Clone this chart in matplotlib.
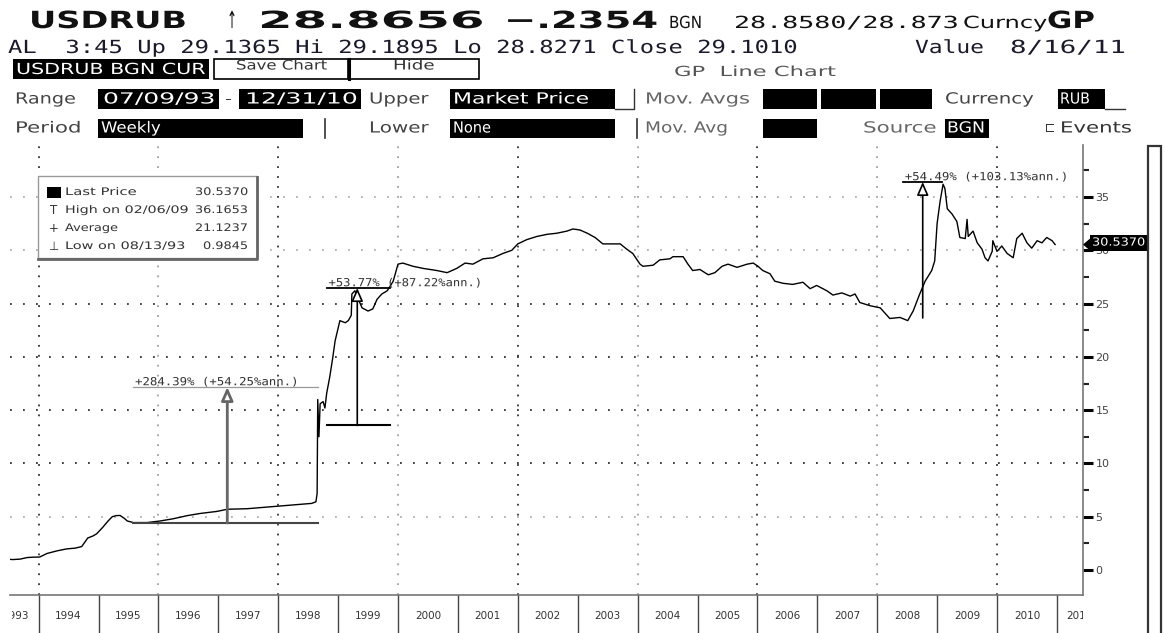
import matplotlib
matplotlib.use("Agg")
import matplotlib.pyplot as plt
import matplotlib.patheffects as pe
from matplotlib.transforms import Affine2D, blended_transform_factory
from matplotlib.patches import Rectangle, Polygon

# ------------------------------------------------------------------ data
years = [1993.52, 1993.57, 1993.69, 1993.81, 1993.90, 1994.02, 1994.14, 1994.31,
         1994.47, 1994.61, 1994.72, 1994.77, 1994.82, 1994.91, 1994.97, 1995.07,
         1995.16, 1995.23, 1995.29, 1995.36, 1995.43, 1995.48, 1995.58, 1995.81,
         1996.03, 1996.24, 1996.48, 1996.69, 1996.98, 1997.15, 1997.48, 1997.81,
         1998.03, 1998.25, 1998.45, 1998.56, 1998.63, 1998.65, 1998.66, 1998.68,
         1998.70, 1998.75, 1998.78, 1998.81, 1998.86, 1998.91, 1998.95, 1999.00,
         1999.03, 1999.12, 1999.17, 1999.22, 1999.23, 1999.28, 1999.33, 1999.40,
         1999.50, 1999.58, 1999.65, 1999.73, 1999.82, 1999.92, 2000.00, 2000.08,
         2000.25, 2000.42, 2000.65, 2000.82, 2000.98, 2001.12, 2001.25, 2001.42,
         2001.59, 2001.75, 2001.90, 2002.00, 2002.15, 2002.32, 2002.49, 2002.65,
         2002.82, 2002.92, 2003.04, 2003.16, 2003.29, 2003.42, 2003.54, 2003.71,
         2003.82, 2003.92, 2004.04, 2004.09, 2004.26, 2004.37, 2004.54, 2004.59,
         2004.76, 2004.84, 2004.92, 2005.04, 2005.18, 2005.29, 2005.41, 2005.51,
         2005.66, 2005.83, 2005.93, 2006.01, 2006.09, 2006.21, 2006.29, 2006.43,
         2006.59, 2006.76, 2006.88, 2006.99, 2007.16, 2007.26, 2007.41, 2007.55,
         2007.63, 2007.71, 2007.88, 2008.05, 2008.21, 2008.38, 2008.51, 2008.60,
         2008.71, 2008.80, 2008.91, 2008.96, 2009.00, 2009.05, 2009.10, 2009.13,
         2009.17, 2009.25, 2009.33, 2009.38, 2009.47, 2009.50, 2009.52, 2009.60,
         2009.67, 2009.75, 2009.80, 2009.85, 2009.92, 2009.93, 2010.00, 2010.08,
         2010.17, 2010.27, 2010.33, 2010.42, 2010.50, 2010.58, 2010.67, 2010.75,
         2010.83, 2010.92, 2010.97]
usdrub = [1.00, 0.98, 1.02, 1.17, 1.20, 1.22, 1.55, 1.80,
          1.98, 2.05, 2.20, 2.60, 3.00, 3.20, 3.40, 4.00,
          4.60, 5.00, 5.10, 5.12, 4.85, 4.60, 4.45, 4.45,
          4.60, 4.80, 5.10, 5.30, 5.50, 5.70, 5.75, 5.90,
          6.00, 6.10, 6.20, 6.25, 6.40, 7.20, 16.0, 12.5,
          15.6, 15.8, 15.2, 16.6, 18.1, 19.9, 21.5, 22.7,
          23.4, 23.2, 23.4, 23.9, 25.9, 26.2, 25.5, 24.6,
          24.3, 24.5, 25.4, 25.9, 26.2, 27.1, 28.7, 28.8,
          28.5, 28.3, 28.1, 27.9, 28.3, 28.8, 28.7, 29.2,
          29.3, 29.7, 30.0, 30.6, 31.0, 31.3, 31.5, 31.6,
          31.8, 32.0, 31.9, 31.6, 31.2, 30.6, 30.6, 30.6,
          30.1, 29.7, 28.7, 28.5, 28.6, 29.1, 29.2, 29.4,
          29.4, 28.7, 28.1, 28.2, 27.7, 27.9, 28.5, 28.7,
          28.4, 28.7, 28.8, 28.5, 28.1, 27.8, 27.1, 26.9,
          26.8, 27.0, 26.4, 26.7, 26.2, 25.8, 26.0, 25.7,
          25.9, 25.1, 24.8, 24.6, 23.6, 23.7, 23.4, 24.3,
          25.9, 27.1, 28.1, 29.0, 32.5, 34.6, 36.2, 35.8,
          33.9, 33.4, 32.7, 31.2, 31.1, 32.9, 31.3, 31.8,
          30.7, 30.1, 29.3, 29.0, 29.9, 30.9, 29.9, 30.4,
          29.7, 29.3, 31.1, 31.6, 30.7, 30.2, 30.9, 30.7,
          31.2, 30.9, 30.54]

year_labels = list(range(1993, 2012))
ytick_values = [0, 5, 10, 15, 20, 25, 30, 35]
last_price = 30.5370

legend_symbols = ["", "T", "+", "\u22a5"]
legend_names = ["Last Price", "High on 02/06/09", "Average", "Low on 08/13/93"]
legend_values = ["30.5370", "36.1653", "21.1237", "0.9845"]

# percentage-move annotations: start, end, arrow x, low, high, label
move_start = [1995.58, 1998.81, 2008.43]
move_end = [1998.66, 1999.87, 2009.08]
move_arrow = [1997.15, 1999.32, 2008.76]
move_low = [4.41, 13.56, 23.65]
move_high = [17.17, 26.46, 36.41]
move_labels = ["+284.39% (+54.25%ann.)", "+53.77% (+87.22%ann.)", "+54.49% (+103.13%ann.)"]

# ------------------------------------------------------------------ helpers
W, H = 1165, 633
fig = plt.figure(figsize=(W / 100, H / 100), dpi=100, facecolor="white")
renderer = fig.canvas.get_renderer()


class HStretch(pe.AbstractPathEffect):
    """Draw text glyphs stretched horizontally around the text origin."""

    def __init__(self, sx):
        super().__init__()
        self.sx = sx

    def draw_path(self, renderer, gc, tpath, affine, rgbFace=None):
        renderer.draw_path(gc, tpath, Affine2D().scale(self.sx, 1.0) + affine, rgbFace)


def fit(axx, x, y, s, width_px=None, size=10, weight="normal", family="DejaVu Sans",
        color="#222222", va="center", zorder=6, **kw):
    t = axx.text(x, y, s, fontsize=size, fontweight=weight, family=family, color=color,
                 ha="left", va=va, zorder=zorder, **kw)
    if width_px is not None:
        w = t.get_window_extent(renderer).width
        if w > 0:
            t.set_path_effects([HStretch(width_px / w)])
    return t


def px_rect(x0, y0, x1, y1):
    return [x0 / W, 1 - y1 / H, (x1 - x0) / W, (y1 - y0) / H]


X0_PX, PX_PER_YEAR = 398.0, 59.9
V0_PX, PX_PER_UNIT = 570.0, 10.657


def px_to_year(px):
    return 2000.0 + (px - X0_PX) / PX_PER_YEAR


def px_to_val(py):
    return (V0_PX - py) / PX_PER_UNIT


# ------------------------------------------------------------------ main chart
ax = fig.add_axes(px_rect(10, 145, 1083, 595))
ax.set_xlim(px_to_year(10), px_to_year(1083))
ax.set_ylim(px_to_val(595), px_to_val(145))
for side in ("top", "left"):
    ax.spines[side].set_visible(False)
ax.spines["bottom"].set_color("#777777")
ax.spines["right"].set_color("#777777")
ax.spines["bottom"].set_linewidth(1.2)
ax.spines["right"].set_linewidth(1.2)

ax.yaxis.tick_right()
ax.set_yticks(ytick_values)
ax.set_yticks([v + 2.5 for v in ytick_values], minor=True)
ax.tick_params(axis="y", which="major", length=7, width=2.2, color="black",
               labelsize=8, labelcolor="#444444", pad=2)
ax.tick_params(axis="y", which="minor", length=4, width=1.5, color="#222222")
ax.set_xticks([])

# gridlines
for v in ytick_values[1:]:
    c = "#333333" if 10 <= v <= 25 else "#b0b0b0"
    ax.axhline(v, color=c, lw=1.3, ls=(0, (1.0, 6.2)), zorder=1)
for i, yr in enumerate(range(1994, 2011, 2)):
    c = "#333333" if i % 2 == 0 else "#a0a0a0"
    ax.axvline(yr, color=c, lw=1.3, ls=(0, (1.0, 4.5)), zorder=1)

ax.plot(years, usdrub, color="black", lw=1.0, zorder=3)

# move annotations
base_cols = ["#444444", "black"]
top_cols = ["#999999", "black", "black"]
shaft_cols = ["#666666", "black", "black"]
for i in range(3):
    if i < 2:
        ax.plot([move_start[i], move_end[i]], [move_low[i], move_low[i]],
                color=base_cols[i], lw=1.5, zorder=4)
    ax.plot([move_start[i], move_end[i]], [move_high[i], move_high[i]],
            color=top_cols[i], lw=0.9 if i == 0 else 1.3, zorder=4)
    ax.annotate("", xy=(move_arrow[i], move_high[i]), xytext=(move_arrow[i], move_low[i]),
                arrowprops=dict(arrowstyle="-|>,head_length=0.8,head_width=0.35",
                                fc="white", ec=shaft_cols[i],
                                lw=2.0 if i == 0 else 1.2, shrinkA=0, shrinkB=0),
                zorder=5)
    fit(ax, move_start[i] + 0.03, move_high[i] + 0.45, move_labels[i],
        width_px=165 if i != 1 else 155, size=8, family="DejaVu Sans Mono",
        color="#333333", va="center", zorder=7)

# last price tag on right axis
trans = blended_transform_factory(ax.transAxes, ax.transData)
pxa = 1.0 / 1073.0
pv = 1.0 / PX_PER_UNIT
ax.add_patch(Rectangle((1 + 7 * pxa, last_price - 6 * pv), 57 * pxa, 16 * pv, transform=trans,
                       clip_on=False, facecolor="black", edgecolor="none", zorder=10))
ax.add_patch(Polygon([(1.0, last_price), (1 + 7 * pxa, last_price + 6 * pv),
                      (1 + 7 * pxa, last_price - 6 * pv)], closed=True, transform=trans,
                     clip_on=False, facecolor="black", edgecolor="none", zorder=10))
t = ax.text(1 + 9 * pxa, last_price + 2 * pv, "%.4f" % last_price, transform=trans, fontsize=8,
            family="DejaVu Sans", color="white", ha="left", va="center", zorder=11)
t.set_path_effects([HStretch(53 / t.get_window_extent(renderer).width)])

# ------------------------------------------------------------------ year band
band = fig.add_axes(px_rect(12, 595, 1083, 633))
xmin, xmax = px_to_year(12), px_to_year(1083)
band.set_xlim(xmin, xmax)
band.set_ylim(0, 1)
band.axis("off")
band.vlines(year_labels[1:], 0, 1, color="#444444", lw=1.0)
for yr in year_labels:
    xc = min(max(yr + 0.5, xmin + 0.07), xmax - 0.06)
    band.text(xc, 0.45, str(yr), ha="center", va="center", fontsize=7.5,
              color="#333333", family="DejaVu Sans", clip_on=True)

# ------------------------------------------------------------------ overlay (header, legend)
ov = fig.add_axes([0, 0, 1, 1], zorder=5)
ov.set_xlim(0, W)
ov.set_ylim(H, 0)
ov.axis("off")
ov.patch.set_visible(False)

# row 1
fit(ov, 29, 28, "USDRUB", 158, size=17, weight="bold", color="#111111", va="baseline")
fit(ov, 227, 28, "\u2191", 10, size=17, color="#111111", va="baseline")
fit(ov, 258, 28, "28.8656", 227, size=17, weight="bold", color="#111111", va="baseline")
fit(ov, 504, 28, "\u2212.2354", 154, size=17, weight="bold", color="#111111", va="baseline")
fit(ov, 669, 28, "BGN", 33, size=12, color="#111111", va="baseline")
fit(ov, 734, 28, "28.8580/28.873", 224, size=12, family="DejaVu Sans Mono", color="#111111", va="baseline")
fit(ov, 963, 28, "Curncy", 84, size=12, color="#111111", va="baseline")
fit(ov, 1047, 28, "GP", 48, size=17, weight="bold", color="#111111", va="baseline")

# row 2
fit(ov, 8, 53, "AL  3:45 Up 29.1365 Hi 29.1895 Lo 28.8271 Close 29.1010", 790, size=13,
    family="DejaVu Sans Mono", color="#1a1a2a", va="baseline")
fit(ov, 915, 53, "Value", 69, size=13, family="DejaVu Sans Mono", color="#1a1a2a", va="baseline")
fit(ov, 1010, 53, "8/16/11", 116, size=13, family="DejaVu Sans Mono", color="#1a1a2a", va="baseline")


def box(x0, y0, x1, y1, face="black", edge="none", lw=1.0):
    ov.add_patch(Rectangle((x0, y0), x1 - x0, y1 - y0, facecolor=face, edgecolor=edge,
                           lw=lw, zorder=5))


# row 3
box(13, 59, 209, 79)
fit(ov, 16, 69.5, "USDRUB BGN CUR", 190, size=11, color="white")
box(214, 59, 348, 79, face="white", edge="black", lw=1.2)
box(349, 59, 479, 79, face="white", edge="black", lw=1.2)
ov.plot([349, 349], [59, 79], color="black", lw=2.2, zorder=6)
fit(ov, 236, 66, "Save Chart", 92, size=9.5, color="#333333")
fit(ov, 393, 66, "Hide", 42, size=9.5, color="#333333")
fit(ov, 674, 72, "GP  Line Chart", 162, size=10, color="#555555")

# row 4
y4 = 99
fit(ov, 15, y4, "Range", 61, size=11, color="#444444")
box(98, 89, 219, 109)
fit(ov, 103, y4, "07/09/93", 112, size=11, color="white")
fit(ov, 225, y4, "-", 7, size=11, color="#333333")
box(239, 89, 361, 109)
fit(ov, 245, y4, "12/31/10", 112, size=11, color="white")
fit(ov, 369, y4, "Upper", 60, size=11, color="#444444")
box(450, 89, 615, 109)
fit(ov, 453, y4, "Market Price", 137, size=11, color="white")
ov.plot([615, 634, 634], [109, 109, 89], color="#333333", lw=1.0, zorder=6)
fit(ov, 645, y4, "Mov. Avgs", 105, size=11, color="#666666")
box(763, 89, 817, 109)
box(821, 89, 876, 109)
box(880, 89, 932, 109)
fit(ov, 945, y4, "Currency", 89, size=11, color="#444444")
box(1058, 89, 1105, 109)
fit(ov, 1060, y4, "RUB", 30, size=11, color="white")
ov.plot([1105, 1125], [109, 109], color="#333333", lw=1.0, zorder=6)

# row 5
y5 = 128
fit(ov, 15, y5, "Period", 67, size=11, color="#444444")
box(98, 119, 303, 138)
fit(ov, 101, y5, "Weekly", 60, size=11, color="white")
ov.plot([325, 325], [119, 138], color="#333333", lw=1.2, zorder=6)
fit(ov, 369, y5, "Lower", 60, size=11, color="#444444")
box(450, 119, 615, 138)
fit(ov, 453, y5, "None", 38, size=11, color="white")
ov.plot([637, 637], [119, 138], color="#333333", lw=1.2, zorder=6)
fit(ov, 645, y5, "Mov. Avg", 83, size=11, color="#666666")
box(763, 119, 817, 138)
fit(ov, 863, y5, "Source", 74, size=11, color="#666666")
box(945, 119, 989, 138)
fit(ov, 947, y5, "BGN", 38, size=11, color="white")
fit(ov, 1045, y5, "\u228f", 10, size=10, color="#333333")
fit(ov, 1060, y5, "Events", 72, size=11, color="#333333")

# scroll bar at the far right
box(1148, 146, 1161, 640, face="white", edge="#333333", lw=1.6)

# legend box
box(38, 176, 257, 258, face="white", edge="#9a9a9a", lw=1.0)
ov.plot([257, 257, 38], [177, 259, 259], color="#666666", lw=2.0, zorder=6)
leg_y = [192, 210, 228, 246]
ov.add_patch(Rectangle((47, 187), 14, 11, facecolor="black", edgecolor="none", zorder=6))
name_w = [72, 123, 53, 120]
for i in range(4):
    if legend_symbols[i]:
        ov.text(54, leg_y[i], legend_symbols[i], fontsize=8.5, family="DejaVu Sans",
                color="#333333", ha="center", va="center", zorder=6)
    fit(ov, 65, leg_y[i], legend_names[i], name_w[i], size=7.5, color="#333333")
    vw = 53 if len(legend_values[i]) == 7 else 45
    fit(ov, 248 - vw, leg_y[i], legend_values[i], vw, size=7.5, color="#333333")

fig.savefig("out.png", dpi=100, facecolor="white")
